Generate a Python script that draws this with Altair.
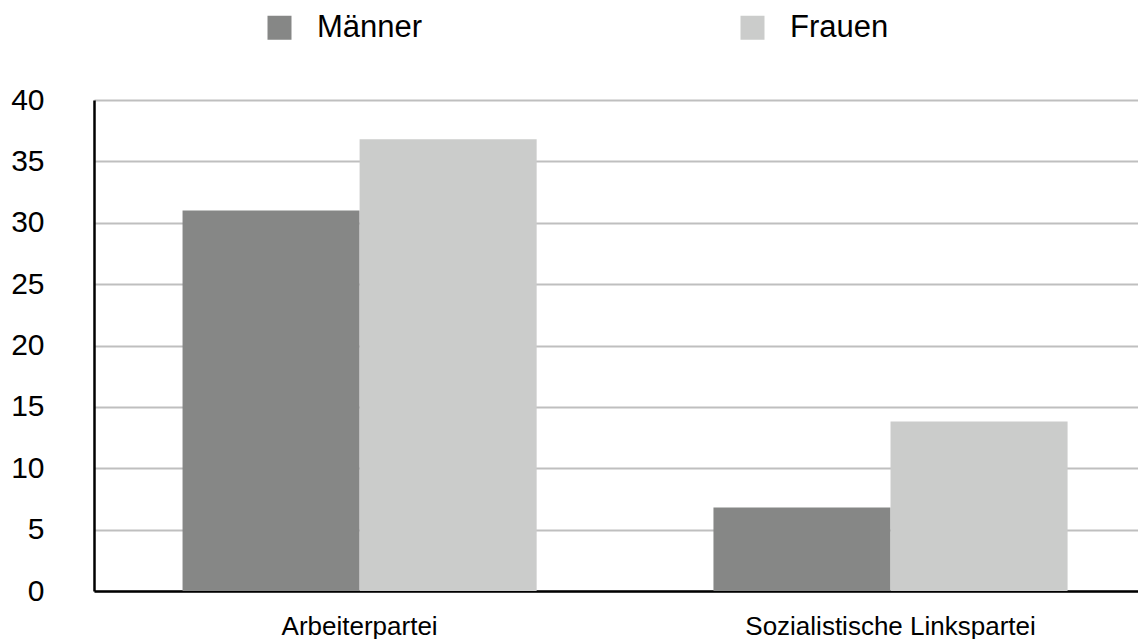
import altair as alt
import pandas as pd

parties = ["Arbeiterpartei", "Sozialistische Linkspartei"]
maenner = [31.0, 6.8]
frauen = [36.8, 13.8]
series = ["Männer", "Frauen"]
colors = ["#868786", "#cbcccb"]
y_ticks = [0, 5, 10, 15, 20, 25, 30, 35, 40]

rows = []
for i, p in enumerate(parties):
    rows.append({"Partei": p, "Geschlecht": series[0], "Wert": maenner[i]})
    rows.append({"Partei": p, "Geschlecht": series[1], "Wert": frauen[i]})
df = pd.DataFrame(rows)

font = "Liberation Sans"

chart = alt.Chart(df).mark_bar().encode(
    x=alt.X("Partei:N", sort=parties, title=None,
            scale=alt.Scale(paddingInner=0.333, paddingOuter=0.1497, align=0.557),
            axis=alt.Axis(labelAngle=0, labelFont=font, labelFontSize=26, labelLimit=0,
                          labelColor="#000000", labelPadding=22, ticks=False, tickSize=0,
                          domainColor="#000000", domainWidth=2.5, grid=False)),
    xOffset=alt.XOffset("Geschlecht:N", sort=series, scale=alt.Scale(paddingInner=0, paddingOuter=0)),
    y=alt.Y("Wert:Q", title=None,
            scale=alt.Scale(domain=[0, 40], nice=False),
            axis=alt.Axis(values=y_ticks, labelFont=font, labelFontSize=30, labelColor="#000000",
                          labelPadding=50, ticks=False, tickSize=0,
                          domainColor="#000000", domainWidth=2.5,
                          grid=True, gridColor="#bfbfbf", gridWidth=2)),
    color=alt.Color("Geschlecht:N", sort=series,
                    scale=alt.Scale(domain=series, range=colors),
                    legend=alt.Legend(title=None, orient="none", legendX=170, legendY=-88,
                                      direction="horizontal", symbolType="square",
                                      symbolSize=576, symbolStrokeWidth=0,
                                      labelFont=font, labelFontSize=31, labelColor="#000000",
                                      labelOffset=22, columnPadding=314, padding=0)),
).properties(
    width=1044, height=491,
    autosize=alt.AutoSizeParams(type="none"),
    padding={"left": 86, "top": 92, "right": 0, "bottom": 48},
).configure_view(stroke=None).configure_axis(gridCap="butt")

chart.save("out.html", embed_options={"renderer": "svg", "actions": False})
